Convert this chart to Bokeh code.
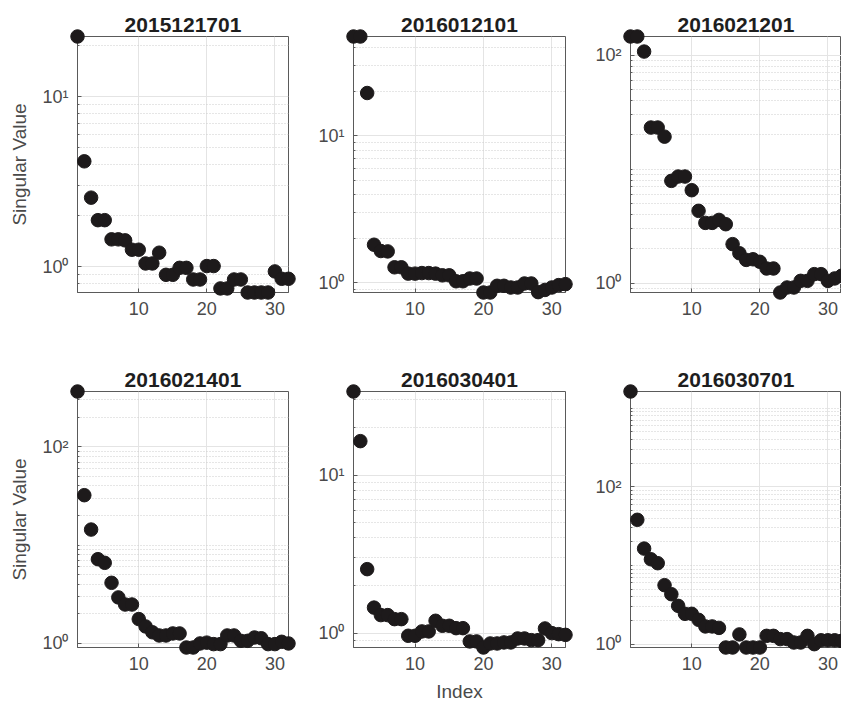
from bokeh.plotting import figure
from bokeh.models import Range1d, FixedTicker
from bokeh.layouts import column, row
from bokeh.embed import file_html
from bokeh.resources import INLINE

# ---------------- data ----------------
index = list(range(1, 33))

titles = ["2015121701", "2016012101", "2016021201",
          "2016021401", "2016030401", "2016030701"]

sv_2015121701 = [22.6, 4.17, 2.55, 1.88, 1.88, 1.45, 1.45, 1.43, 1.26, 1.26,
                 1.046, 1.046, 1.21, 0.897, 0.897, 0.986, 0.986, 0.842, 0.842, 1.01,
                 1.01, 0.746, 0.746, 0.842, 0.842, 0.706, 0.706, 0.706, 0.706, 0.939,
                 0.85, 0.85]
sv_2016012101 = [47.6, 47.6, 19.6, 1.81, 1.64, 1.63, 1.27, 1.27, 1.15, 1.15,
                 1.16, 1.16, 1.15, 1.12, 1.12, 1.02, 1.02, 1.065, 1.065, 0.855,
                 0.855, 0.95, 0.95, 0.925, 0.925, 0.985, 0.985, 0.86, 0.89, 0.925,
                 0.96, 0.975]
sv_2016021201 = [146.0, 146.0, 107.7, 23.2, 23.2, 19.3, 7.9, 8.62, 8.62, 6.54,
                 4.31, 3.38, 3.38, 3.59, 3.29, 2.2, 1.83, 1.6, 1.62, 1.54,
                 1.345, 1.345, 0.828, 0.916, 0.916, 1.048, 1.048, 1.2, 1.2, 1.047,
                 1.1, 1.16]
sv_2016021401 = [365.0, 32.2, 14.4, 7.2, 6.61, 4.14, 2.94, 2.49, 2.49, 1.77,
                 1.49, 1.30, 1.206, 1.206, 1.264, 1.264, 0.91, 0.91, 1.0, 1.02,
                 0.985, 0.985, 1.206, 1.206, 1.064, 1.064, 1.15, 1.13, 0.985, 0.985,
                 1.04, 1.0]
sv_2016030401 = [33.8, 16.4, 2.54, 1.45, 1.30, 1.30, 1.226, 1.226, 0.962, 0.962,
                 1.025, 1.025, 1.197, 1.113, 1.113, 1.075, 1.075, 0.886, 0.886, 0.811,
                 0.86, 0.86, 0.873, 0.873, 0.925, 0.925, 0.903, 0.903, 1.07, 1.0,
                 0.985, 0.975]
sv_2016030701 = [1629.0, 38.1, 16.4, 12.0, 10.7, 5.62, 4.32, 3.07, 2.43, 2.43,
                 2.04, 1.68, 1.68, 1.61, 0.907, 0.907, 1.33, 0.907, 0.907, 0.907,
                 1.276, 1.276, 1.16, 1.16, 1.05, 1.05, 1.276, 1.0, 1.12, 1.12,
                 1.12, 1.1]

series = [sv_2015121701, sv_2016012101, sv_2016021201,
          sv_2016021401, sv_2016030401, sv_2016030701]

x_ticks = [10, 20, 30]
y_major_ticks = [[1, 10], [1, 10], [1, 100], [1, 100], [1, 10], [1, 100]]
y_tick_labels = {1: "10\u2070", 10: "10\u00b9", 100: "10\u00b2", 1000: "10\u00b3"}

# ---------------- style / layout ----------------
FONT = "Liberation Sans"
TXT = "#4a4a4a"
AX = "#5a5a5a"

widths = [310, 275, 256]
lefts = [77, 43, 45]
rights = [22, 20, 0]
row_heights = [342, 362]
tops = [36, 49]
bottoms = [50, 57]


def make_panel(i):
    r, c = divmod(i, 3)
    vals = series[i]
    majors = y_major_ticks[i]
    minors = []
    for d in range(-1, 4):
        for k in range(1, 10):
            v = k * 10 ** d
            if v not in majors:
                minors.append(v)

    p = figure(width=widths[c], height=row_heights[r],
               y_axis_type="log",
               x_range=Range1d(min(index), max(index)),
               y_range=Range1d(min(vals), max(vals)),
               output_backend="svg", toolbar_location=None,
               min_border_left=lefts[c], min_border_right=rights[c],
               min_border_top=tops[r], min_border_bottom=bottoms[r])
    p.background_fill_color = "white"
    p.border_fill_color = "white"
    p.outline_line_color = AX
    p.outline_line_width = 1

    p.title.text = titles[i]
    p.title.align = "center"
    p.title.text_font = FONT
    p.title.text_font_size = "21px"
    p.title.text_font_style = "bold"
    p.title.text_color = "#1e1e1e"
    p.title.standoff = 10

    p.xaxis.ticker = FixedTicker(ticks=x_ticks)
    p.yaxis.ticker = FixedTicker(ticks=majors, minor_ticks=minors)
    p.yaxis.major_label_overrides = {k: y_tick_labels[k] for k in majors}

    for ax in (p.xaxis[0], p.yaxis[0]):
        ax.axis_line_color = AX
        ax.major_tick_line_color = AX
        ax.minor_tick_line_color = AX
        ax.major_tick_in = 4
        ax.major_tick_out = 0
        ax.minor_tick_in = 2
        ax.minor_tick_out = 0
        ax.major_label_text_font = FONT
        ax.major_label_text_font_size = "18px"
        ax.major_label_text_color = TXT
        ax.axis_label_text_font = FONT
        ax.axis_label_text_font_size = "19px"
        ax.axis_label_text_font_style = "normal"
        ax.axis_label_text_color = TXT
    p.xaxis.major_label_standoff = 9
    p.yaxis.major_label_standoff = 9

    if c == 0:
        p.yaxis.axis_label = "Singular Value"
        p.yaxis.axis_label_standoff = 9
    if r == 1 and c == 1:
        p.xaxis.axis_label = "Index"
        p.xaxis.axis_label_standoff = 8

    p.xgrid.grid_line_color = "#e4e4e4"
    p.ygrid.grid_line_color = "#e4e4e4"
    p.ygrid.minor_grid_line_color = "#cdcdcd"
    p.ygrid.minor_grid_line_dash = "1 2"

    p.scatter(index, vals, size=13.5, marker="circle",
              fill_color="#1d1a1b", line_color="#1d1a1b", level="overlay")
    return p


panels = [make_panel(i) for i in range(6)]
layout = column(row(*panels[:3]), row(*panels[3:]))

open("out.html", "w").write(file_html(layout, INLINE))
